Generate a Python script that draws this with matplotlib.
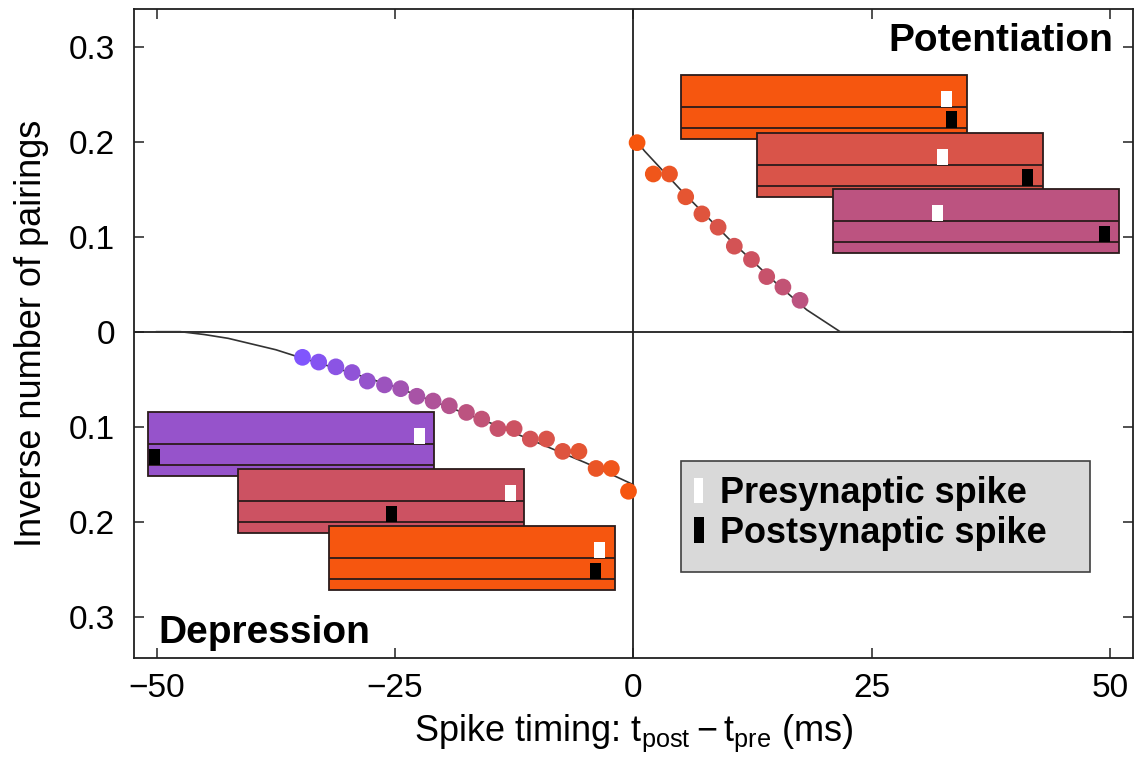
import numpy as np
import matplotlib
matplotlib.use("Agg")
import matplotlib.pyplot as plt
from matplotlib.patches import Rectangle
from matplotlib.colors import LinearSegmentedColormap, Normalize

plt.rcParams["font.family"] = ["Liberation Sans", "DejaVu Sans"]
plt.rcParams["mathtext.fontset"] = "custom"
plt.rcParams["mathtext.rm"] = "Liberation Sans"
plt.rcParams["mathtext.it"] = "Liberation Sans"
plt.rcParams["mathtext.default"] = "regular"

# measured points (spike timing in ms, inverse number of pairings; depression negative)
pot_t = [0.4, 2.1, 3.8, 5.5, 7.2, 8.9, 10.6, 12.4, 14.0, 15.7, 17.5]
pot_y = [0.199, 0.166, 0.166, 0.142, 0.124, 0.110, 0.090, 0.076, 0.058, 0.047, 0.033]
dep_t = [-34.7, -33.0, -31.2, -29.5, -27.9, -26.1, -24.4, -22.7, -21.0, -19.3, -17.5,
         -15.9, -14.2, -12.5, -10.8, -9.1, -7.4, -5.7, -3.9, -2.3, -0.5]
dep_y = [-0.027, -0.032, -0.037, -0.043, -0.052, -0.056, -0.060, -0.068, -0.073, -0.078,
         -0.085, -0.092, -0.102, -0.102, -0.113, -0.113, -0.126, -0.126, -0.144, -0.144,
         -0.168]

# fitted curves
pot_fit_t = [0.4, 1.2, 5.0, 10.0, 15.0, 18.2, 21.7, 50.0]
pot_fit_y = [0.200, 0.190, 0.149, 0.098, 0.051, 0.023, 0.0, 0.0]
dep_fit_t = [-50, -47.5, -45, -42.5, -40, -37.5, -35, -30, -25, -20, -15, -10, -5, -3, 0]
dep_fit_y = [0.0, 0.0, -0.003, -0.007, -0.013, -0.019, -0.027, -0.042, -0.058, -0.077,
             -0.096, -0.117, -0.138, -0.147, -0.161]

# pairing protocol boxes: start time, top, pre spike time, post spike time
pot_box_start = [5.0, 13.0, 21.0]
pot_box_top = [0.2705, 0.2095, 0.1499]
pot_pre = [32.9, 32.4, 31.9]
pot_post = [33.4, 41.4, 49.4]
dep_box_start = [-50.9, -41.45, -31.9]
dep_box_top = [-0.0848, -0.1448, -0.2048]
dep_pre = [-22.4, -12.9, -3.5]
dep_post = [-50.2, -25.4, -4.0]

yticks = [-0.3, -0.2, -0.1, 0, 0.1, 0.2, 0.3]
yticklabels = ["0.3", "0.2", "0.1", "0", "0.1", "0.2", "0.3"]
xticks = [-50, -25, 0, 25, 50]

BOX_W = 30.0
BOX_H = 0.0675
SPK_W = 1.15
SPK_H = 0.017
EDGE = "#2b1b1b"

# colour follows |post - pre|
cmap = LinearSegmentedColormap.from_list("stdp", [
    (0.0, "#f7560c"), (0.257, "#d9544a"), (0.357, "#cc5262"),
    (0.5, "#bc5380"), (0.8, "#9553cc"), (1.0, "#7f55ff")])
norm = Normalize(0, 35)

fig = plt.figure(figsize=(11.34, 7.67), dpi=100, facecolor="white")
ax = fig.add_axes([0.1184, 0.1425, 0.8805, 0.8454])

ax.axhline(0, color="#202020", lw=1.3, zorder=1)
ax.axvline(0, color="#202020", lw=1.3, zorder=1)

ax.plot(pot_fit_t, pot_fit_y, color="#333333", lw=1.2, zorder=2)
ax.plot(dep_fit_t, dep_fit_y, color="#333333", lw=1.2, zorder=2)

ax.scatter(pot_t, pot_y, s=145, c=cmap(norm(np.abs(pot_t))), edgecolors="none", zorder=3)
ax.scatter(dep_t, dep_y, s=145, c=cmap(norm(np.abs(dep_t))), edgecolors="none", zorder=3)


def draw_box(start, top, pre, post, z):
    color = cmap(norm(abs(post - pre)))
    ax.add_patch(Rectangle((start, top - BOX_H), BOX_W, BOX_H, facecolor=color,
                           edgecolor=EDGE, lw=1.3, zorder=z))
    line1 = top - 0.5 * BOX_H
    line2 = top - 0.825 * BOX_H
    for yl in (line1, line2):
        ax.plot([start, start + BOX_W], [yl, yl], color=EDGE, lw=1.3, zorder=z + 0.1,
                solid_capstyle="butt")
    ax.add_patch(Rectangle((pre - SPK_W / 2, line1), SPK_W, SPK_H, facecolor="white",
                           edgecolor="none", zorder=z + 0.2))
    ax.add_patch(Rectangle((post - SPK_W / 2, line2), SPK_W, SPK_H, facecolor="black",
                           edgecolor="none", zorder=z + 0.2))


for i in range(3):
    draw_box(pot_box_start[i], pot_box_top[i], pot_pre[i], pot_post[i], 4 + i)
    draw_box(dep_box_start[i], dep_box_top[i], dep_pre[i], dep_post[i], 4 + i)

# legend
ax.add_patch(Rectangle((5.0, -0.2526), 42.9, 0.1165, facecolor="#d9d9d9",
                       edgecolor="#404040", lw=1.2, zorder=8))
ax.add_patch(Rectangle((6.37, -0.1806), 0.95, 0.027, facecolor="white",
                       edgecolor="none", zorder=9))
ax.add_patch(Rectangle((6.37, -0.2221), 1.05, 0.027, facecolor="black",
                       edgecolor="none", zorder=9))
ax.text(9.1, -0.1806, "Presynaptic spike", fontsize=26, fontweight="bold",
        va="baseline", ha="left", zorder=9)
ax.text(9.1, -0.2221, "Postsynaptic spike", fontsize=26, fontweight="bold",
        va="baseline", ha="left", zorder=9)

ax.text(50.4, 0.295, "Potentiation", fontsize=28, fontweight="bold",
        ha="right", va="baseline", zorder=9)
ax.text(-49.85, -0.328, "Depression", fontsize=28, fontweight="bold",
        ha="left", va="baseline", zorder=9)

ax.set_xlim(-52.35, 52.4)
ax.set_ylim(-0.3432, 0.3394)
ax.set_xticks(xticks)
ax.set_yticks(yticks)
ax.set_yticklabels(yticklabels)
ax.tick_params(direction="in", top=True, right=True, length=7.5, width=1.1,
               labelsize=24, color="#202020")
ax.tick_params(axis="y", pad=14)
ax.tick_params(axis="x", pad=11)
for sp in ax.spines.values():
    sp.set_linewidth(1.3)
    sp.set_color("#202020")

ax.set_xlabel("Spike timing: $t_{post} - t_{pre}$ (ms)", fontsize=26, labelpad=6)
ax.set_ylabel("Inverse number of pairings", fontsize=26, labelpad=14)

fig.savefig("out.png", dpi=100, facecolor="white")
